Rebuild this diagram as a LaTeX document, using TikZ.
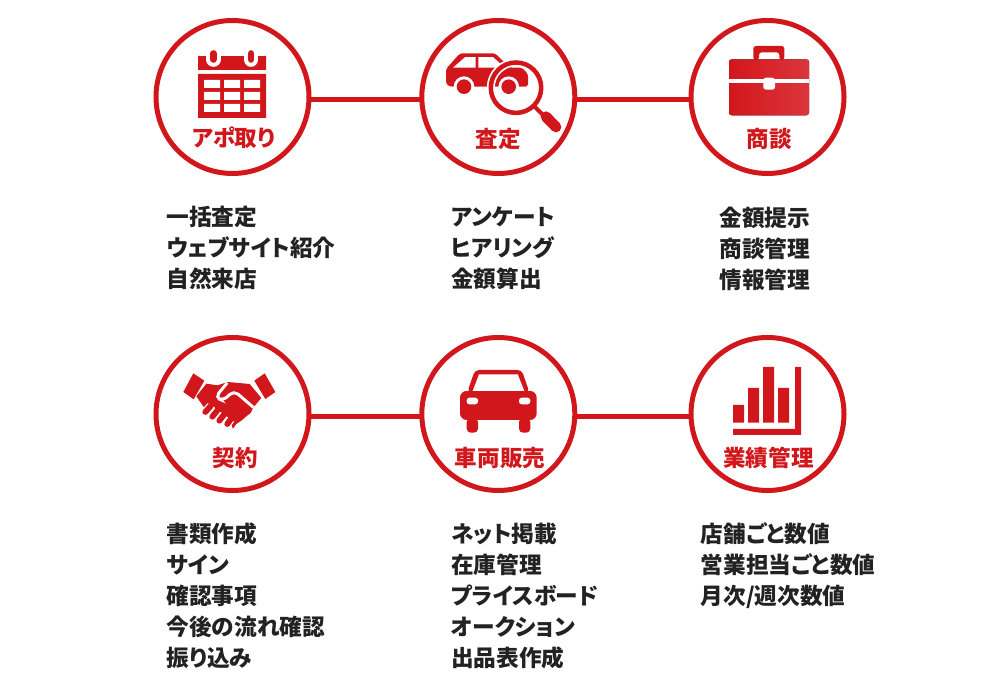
\documentclass[tikz,border=0pt]{standalone}
\usepackage{fontspec}
\setmainfont{Noto Sans CJK JP}[BoldFont={Noto Sans CJK JP Black}, RawFeature={+palt}]
\usepackage{xcolor}
\usetikzlibrary{positioning}
\definecolor{rojo}{HTML}{D2171C}
\definecolor{rojoclaro}{HTML}{DB353C}
\definecolor{tinta}{HTML}{222222}
\tikzset{
  paso/.style={circle, draw=rojo, line width=3.75pt, minimum size=114.75pt, inner sep=0pt},
  etiqueta/.style={text=rojo, inner sep=0pt, font=\fontsize{16.9}{20}\selectfont\bfseries},
  lista/.style={text=tinta, inner sep=0pt, anchor=north west, align=left, font=\fontsize{17}{23.25}\selectfont\bfseries},
  linea/.style={draw=rojo, line width=3.75pt},
  dedo/.style={draw=rojo, line width=4.4pt, line cap=round, preaction={draw=white, line width=6.2pt}}
}

\begin{document}
\begin{tikzpicture}[x=0.75pt, y=-0.75pt]
\useasboundingbox (0,0) rectangle (1000,680);
% Pasos
\node[paso] (apo) at (232.5,97) {};
\node[paso, right=80.85pt of apo] (satei) {};
\node[paso, right=83.4pt of satei] (shodan) {};
\node[paso, below=119.25pt of apo] (keiyaku) {};
\node[paso, below=119.25pt of satei] (hanbai) {};
\node[paso, below=119.25pt of shodan] (gyoseki) {};
% Conectores
\path[linea]
([xshift=-1pt, yshift=-1.6pt]apo.east) -- ([xshift=1pt, yshift=-1.6pt]satei.west)
([xshift=-1pt, yshift=-1.6pt]satei.east) -- ([xshift=1pt, yshift=-1.6pt]shodan.west)
([xshift=-1pt, yshift=-1.7pt]keiyaku.east) -- ([xshift=1pt, yshift=-1.7pt]hanbai.west)
([xshift=-1pt, yshift=-1.7pt]hanbai.east) -- ([xshift=1pt, yshift=-1.7pt]gyoseki.west);
% Etiquetas
\node[etiqueta] (apolbl) at (233.5,138) {アポ取り};
\node[etiqueta] (sateilbl) at (498,139) {査定};
\node[etiqueta] (shodanlbl) at (769,139) {商談};
\node[etiqueta] (keiyakulbl) at (235,458) {契約};
\node[etiqueta] (hanbailbl) at (500,458) {車両販売};
\node[etiqueta] (gyosekilbl) at (768.5,458) {業績管理};
% Listas
\node[lista] (lista1) at (166.3,206.3) {一括査定\\ウェブサイト紹介\\自然来店};
\node[lista] (lista2) at (451,206.3) {アンケート\\ヒアリング\\金額算出};
\node[lista] (lista3) at (719.3,206.3) {金額提示\\商談管理\\情報管理};
\node[lista] (lista4) at (166.3,522.6) {書類作成\\サイン\\確認事項\\今後の流れ確認\\振り込み};
\node[lista] (lista5) at (451,522.6) {ネット掲載\\在庫管理\\プライスボード\\オークション\\出品表作成};
\node[lista] (lista6) at (700.5,522.6) {店舗ごと数値\\営業担当ごと数値\\月次/週次数値};
% Calendario
\fill[rojo] (198,56) rectangle (266,70) (198,74) rectangle (266,118);
\fill[white]
(204,80) rectangle (220,88) (224,80) rectangle (240,88) (244,80) rectangle (260,88)
(204,92) rectangle (220,100) (224,92) rectangle (240,100) (244,92) rectangle (260,100)
(204,104) rectangle (220,112) (224,104) rectangle (240,112) (244,104) rectangle (260,112);
\draw[white, line width=11pt, line cap=round] (213.3,50) -- (213.3,59.5) (251,50) -- (251,59.5);
\fill[white] (200,44) rectangle (264,56);
\draw[rojo, line width=5pt, line cap=round] (213.3,53.5) -- (213.3,59.5) (251,53.5) -- (251,59.5);
% Coche y lupa
\fill[rojo, rounded corners=2pt] (446,84) -- (446,69) -- (460,53.3) -- (495,53.3) -- (510,67.7) -- (522,67.7) -- (528,74) -- (528,86.7) -- (450,86.7) -- cycle;
\fill[white] (453,67.7) -- (465,57.2) -- (475.7,57.2) -- (475.7,67.7) -- cycle;
\fill[white] (478.3,57.2) -- (493,57.2) -- (502,65) -- (502,67.7) -- (478.3,67.7) -- cycle;
\fill[white] (464,86.7) circle (10.3) (508.7,86.7) circle (10.3);
\fill[rojo] (464,86.7) circle (7.3) (508.7,86.7) circle (7.3);
\draw[white, line width=6pt] (516,87.7) circle (25.2);
\draw[rojo, line width=3.4pt] (516,87.7) circle (25.2);
\draw[rojo, line width=3pt] (534,106) -- (544,116);
\draw[rojo, line width=8pt, line cap=round] (546,116.7) -- (556,127);
% Maletin
\fill[rojo, rounded corners=2pt] (753.3,60) -- (753.3,46) -- (784.3,46) -- (784.3,60) -- (779.3,60) -- (779.3,52.3) -- (759,52.3) -- (759,60) -- cycle;
\fill[left color=rojo, right color=rojoclaro, rounded corners=2pt] (729,59.3) rectangle (809,115.3);
\fill[white] (729,79.3) rectangle (809,82.7);
\fill[white, rounded corners=2pt] (763.3,77.7) -- (775,77.7) -- (775,89.7) -- (763.3,89.7) -- cycle;
% Apreton de manos
\begin{scope}[shift={(178,368)}, x=0.25pt, y=-0.25pt]
\fill[rojo] (46,16) -- (79,38) -- (47,94) -- (16,72) -- cycle;
\fill[rojo] (260,16) -- (292,72) -- (262,93) -- (229,38) -- cycle;
\fill[rojo] (85,47) -- (118,52) -- (150,42) -- (215,48) -- (250,90) -- (226,118) -- (218,135) -- (205,145) -- (190,158) -- (175,168) -- (165,182) -- (155,160) -- (95,105) -- (78,118) -- (55,85) -- cycle;
\draw[white, line width=2.2pt, rounded corners=4pt] (226,118) -- (168,68) -- (135,98) -- (112,88) -- (148,44);
\draw[dedo] (98,114) -- (82,132);
\draw[dedo] (119,126) -- (103,146);
\draw[dedo] (138,140) -- (124,158);
\draw[dedo] (158,154) -- (148,168);
\end{scope}
% Coche de frente
\fill[rojo, rounded corners=5pt] (460,391) rectangle (536.7,420);
\fill[rojo, rounded corners=3pt] (467.3,392) -- (475,370) -- (521.7,370) -- (529.3,392) -- cycle;
\fill[white] (472.7,391) -- (479,374.3) -- (517.7,374.3) -- (524.3,391) -- cycle;
\fill[white, rounded corners=2pt] (466.7,397.7) rectangle (478,404.3) (519,397.7) rectangle (530.3,404.3);
\fill[rojo, rounded corners=3pt] (466.7,418) rectangle (478,432.7) (519,418) rectangle (530.3,432.7);
% Barras
\fill[rojo] (733,405) rectangle (744,422.7) (748,388) rectangle (759,422.7) (763,367) rectangle (774,422.7) (778,388) rectangle (789,422.7);
\fill[rojo] (795,367) -- (801,367) -- (801,435) -- (733,435) -- (733,429) -- (795,429) -- cycle;
\end{tikzpicture}
\end{document}
